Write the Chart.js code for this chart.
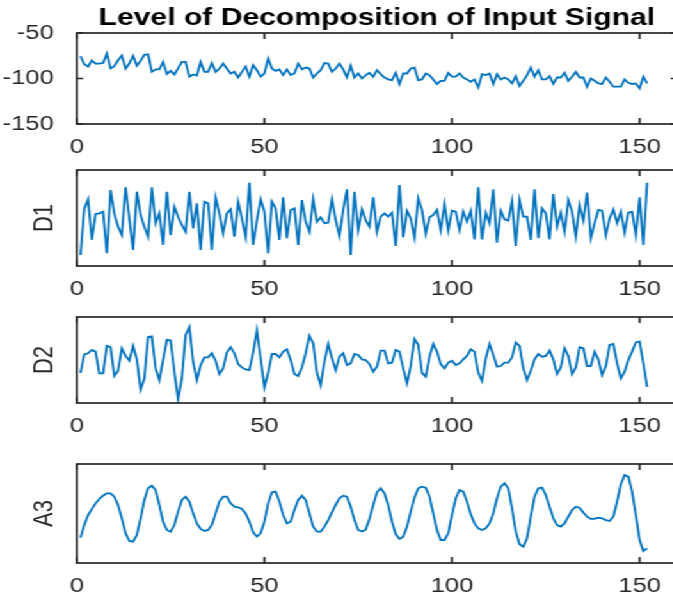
<!DOCTYPE html>
<html>
<head>
<meta charset="utf-8">
<script src="https://cdn.jsdelivr.net/npm/chart.js@4/dist/chart.umd.min.js"></script>
<style>
    html, body { margin: 0; padding: 0; background: #fff; overflow: hidden; }
    #wrap {
        position: relative;
        width: 531px;
        height: 597px;
        transform: scaleX(1.28);
        transform-origin: 0 0;
    }
    #wrap canvas { position: absolute; left: 0; }
</style>
</head>
<body>
<div id="wrap">
    <canvas id="sig" width="531" height="160" style="top:0px"></canvas>
    <canvas id="d1" width="531" height="142" style="top:160px"></canvas>
    <canvas id="d2" width="531" height="132" style="top:307px"></canvas>
    <canvas id="a3" width="531" height="143" style="top:454px"></canvas>
</div>
<script>
/* ============================
   Wavelet decomposition panels
   ============================ */

const titleText = 'Level of Decomposition of Input Signal';
const xTickValues = [0, 50, 100, 150];
const signalTicks = [-150, -100, -50];

// input signal, samples 1..152
const signal = [
    -75.6, -84.3, -87, -80, -83.6, -83.6, -83, -72.7, -89, -86.5,
    -80, -74.8, -89, -83.6, -75, -86, -80.7, -74, -73.4, -92.7,
    -90, -90, -81.8, -95, -91.6, -95.6, -89, -81.8, -81.8, -98,
    -95.6, -96.7, -81.8, -92.7, -92.7, -83, -92.7, -89, -83.6, -89,
    -94.5, -92.7, -98.9, -92.7, -87, -98, -85.4, -90.9, -98, -94.5,
    -78.1, -89, -91.6, -90, -96.3, -90, -96.3, -94.5, -83.6, -90,
    -88, -89, -98.9, -94.5, -90.9, -83, -83.6, -92.7, -89, -83.6,
    -90, -98.9, -86, -98.9, -94.5, -100, -96.3, -93.8, -98, -90.9,
    -95.2, -98.9, -101, -101.8, -93.8, -106, -94.5, -94.5, -89, -88,
    -101.8, -101, -94.5, -96.3, -101, -106, -102.5, -102.5, -93.8, -98,
    -98, -94.5, -98.9, -101, -103.6, -101, -109.8, -95.2, -96.3, -94.5,
    -106, -95.2, -101, -98.9, -101, -105.4, -97.4, -108.3, -102.5, -96.3,
    -88, -98, -90.9, -101, -101, -97.4, -106, -98.9, -98.9, -93.8,
    -102.5, -98, -92.7, -98.9, -98.9, -109, -100, -102.5, -105.4, -106,
    -98.9, -103.6, -109, -109, -109, -101, -104.7, -106, -105.4, -110.9,
    -98, -105.4
];

// level-1 detail
const detail1 = [
    -3.08, 0.8, 1.55, -1.83, 0.33, 0.39, 0.53, -2.94, 2.33, 0.39,
    -0.72, -1.42, 2.56, -0.03, -2.67, 2.19, 0.25, -0.72, -1.56, 2.56,
    -0.44, 0.39, -2.25, 2.19, -1.42, 0.94, 0.11, -0.58, -1.14, 2.19,
    -0.86, 1.22, -2.67, 1.36, 1.22, -2.67, 1.72, 0.39, -1.28, 0.39,
    0.72, -1.56, 1.36, -0.03, -1.56, 2.94, -2.25, -0.17, 1.55, 0.53,
    -2.94, 1.36, 0.8, -1.83, 1.72, -1.69, 0.67, 0.8, -2.25, 1.5,
    -0.31, -1.14, 1.55, -0.31, 0.06, -0.44, -0.39, 1.55, -0.17, -1.5,
    0.67, 2.39, -3.08, 2.19, -1.0, 0.72, -0.2, -0.72, 1.72, -1.14,
    0.11, 0.39, 0.11, 0.44, -2.33, 2.75, -1.61, 0.61, -0.03, -1.61,
    1.64, 0.67, -1.33, 0.06, 0.25, 0.67, -1.0, 1.17, -1.06, 0.61,
    0.53, -1.0, 0.53, -0.31, 0.61, -1.78, 2.56, -1.78, 0.44, -0.44,
    2.39, -2.06, 0.61, -0.11, -0.22, 1.44, -2.33, 1.5, 0.11, 0.11,
    -1.83, 2.39, -1.69, 0.8, 0.39, -1.78, 2.0, -0.72, 0.44, -1.14,
    1.5, 0.53, -1.56, 1.08, -0.22, 2.11, -1.69, -0.44, 0.67, 0.61,
    -1.42, -0.03, 0.72, -0.44, 0.53, -1.22, 0.44, 0.53, -1.42, 1.72,
    -2.25, 2.94
];

// level-2 detail
const detail2 = [
    -1.19, 0.53, 0.63, 0.94, 0.78, -1.25, -1.25, 1.31, 1.19, -1.5,
    -1.0, 1.09, 0.38, -0.06, 1.31, 0.06, -2.75, -1.72, 2.13, 2.19,
    -0.78, -1.88, 0, 1.88, 1.81, -1.09, -3.69, -1.72, 2.34, 3.06,
    -0.16, -1.88, -0.47, 0.25, 0.25, 0.63, -0.06, -1.31, -0.78, 0.69,
    1.19, 0.63, -0.38, -0.69, -0.88, -0.94, 0.69, 2.75, 0.16, -2.56,
    -1.19, 0.56, 0.56, 0.25, 0.78, 1.0, 0, -1.31, -1.5, -0.69,
    0.63, 2.25, 1.56, -1.19, -2.34, -0.16, 1.5, 0.16, -0.94, 0.31,
    0.63, -0.47, -0.31, 0.56, 0.47, 0.06, 0, -0.38, -1.09, -0.63,
    0.88, 0.88, -0.31, -0.25, 0.94, 0.78, -0.78, -2.19, -0.56, 1.94,
    1.41, -1.19, -1.56, 0.31, 1.5, 0.78, -0.38, -0.78, -0.25, -0.06,
    -0.47, -0.31, 0.06, 0.38, 1.0, 0.78, -1.19, -1.94, 0.16, 1.5,
    0.47, -0.63, -0.56, -0.25, -0.25, 0.25, 1.63, 1.31, -0.78, -1.88,
    -1.0, 0.06, 0.56, 0.31, 0.38, 0.88, 0.06, -1.31, -0.69, 1.09,
    0.38, -1.31, -0.69, 1.19, 1.09, -0.56, -0.56, 0.78, 0.06, -1.41,
    -0.56, 1.41, 1.5, -0.31, -1.72, -1.09, 0, 0.78, 1.63, 1.72,
    -0.31, -2.5
];

// level-3 approximation
const approx3 = [
    -1.95, -0.93, -0.12, 0.36, 0.82, 1.17, 1.44, 1.63, 1.63, 1.36,
    0.69, -0.39, -1.6, -2.22, -2.28, -1.74, -0.39, 1.09, 2.04, 2.25,
    1.9, 0.69, -0.66, -1.33, -1.47, -0.93, 0.15, 1.09, 1.36, 0.96,
    0.01, -0.8, -1.25, -1.42, -1.33, -0.93, 0.01, 0.96, 1.36, 1.36,
    0.82, 0.55, 0.5, 0.36, 0.01, -0.66, -1.52, -1.87, -1.6, -0.66,
    0.82, 1.71, 1.77, 0.96, -0.12, -0.8, -0.66, 0.28, 1.09, 1.44,
    1.09, 0.01, -1.06, -1.47, -1.47, -1.06, -0.53, 0.09, 0.69, 1.23,
    1.44, 1.36, 0.55, -0.53, -1.33, -1.45, -1.3, -0.45, 0.69, 1.71,
    2.04, 1.63, 0.69, -0.66, -1.68, -2.06, -1.87, -1.06, 0.15, 1.28,
    2.04, 2.17, 2.09, 1.36, 0.01, -1.33, -2.14, -2.14, -1.6, -0.12,
    1.23, 1.9, 1.77, 0.96, -0.07, -0.8, -1.2, -1.33, -1.2, -0.8,
    0.01, 1.23, 2.17, 2.44, 2.04, 0.42, -1.47, -2.49, -2.68, -2.01,
    -0.26, 1.36, 2.04, 2.09, 1.5, 0.55, -0.39, -0.93, -1.06, -0.8,
    -0.26, 0.28, 0.55, 0.47, 0.09, -0.26, -0.44, -0.44, -0.34, -0.39,
    -0.53, -0.61, -0.26, 0.96, 2.36, 3.11, 2.98, 1.77, -0.12, -2.14,
    -3.03, -2.82
];

const lineColor = '#0072BD';
const axisColor = '#262626';
const fontFamily = "'Liberation Sans', Arial, Helvetica, sans-serif";

Chart.defaults.font.family = fontFamily;
Chart.defaults.color = axisColor;

// box around the axes with inward-pointing ticks
const boxAxes = {
    id: 'boxAxes',
    afterDatasetsDraw(chart, args, opts) {
        const { ctx, chartArea: a, scales } = chart;
        ctx.save();
        ctx.strokeStyle = axisColor;
        ctx.lineWidth = 1.7;
        ctx.strokeRect(a.left, a.top, a.right - a.left, a.bottom - a.top);
        ctx.beginPath();
        scales.x.ticks.forEach(t => {
            const px = scales.x.getPixelForValue(t.value);
            ctx.moveTo(px, a.bottom);
            ctx.lineTo(px, a.bottom - 6);
            ctx.moveTo(px, a.top);
            ctx.lineTo(px, a.top + 6);
        });
        if (opts.yTicks) {
            scales.y.ticks.forEach(t => {
                const py = scales.y.getPixelForValue(t.value);
                ctx.moveTo(a.left, py);
                ctx.lineTo(a.left + 5, py);
                ctx.moveTo(a.right, py);
                ctx.lineTo(a.right - 5, py);
            });
        }
        ctx.stroke();
        ctx.restore();
    }
};

// bold heading centred over the plot area
const heading = {
    id: 'heading',
    afterDraw(chart, args, opts) {
        if (!opts.text) return;
        const { ctx, chartArea: a } = chart;
        ctx.save();
        ctx.fillStyle = '#000';
        ctx.font = 'bold 23.5px ' + fontFamily;
        ctx.textAlign = 'center';
        ctx.textBaseline = 'alphabetic';
        ctx.fillText(opts.text, (a.left + a.right) / 2, 25);
        ctx.restore();
    }
};

function makePanel(id, values, panel) {
    const canvas = document.getElementById(id);
    const h = canvas.height;
    const points = values.map((v, i) => ({ x: i + 1, y: v }));

    return new Chart(canvas, {
        type: 'line',
        data: {
            datasets: [{
                data: points,
                borderColor: lineColor,
                borderWidth: 1.8,
                pointRadius: 0,
                tension: 0,
                fill: false
            }]
        },
        options: {
            responsive: false,
            animation: false,
            events: [],
            layout: { padding: { top: panel.padTop, left: 0, right: 2, bottom: 0 } },
            plugins: {
                legend: { display: false },
                tooltip: { enabled: false },
                boxAxes: { yTicks: !!panel.yTicks },
                heading: { text: panel.heading || '' }
            },
            scales: {
                x: {
                    type: 'linear',
                    min: 0,
                    max: 160,
                    grid: { display: false },
                    border: { display: false },
                    ticks: { color: axisColor, font: { size: 20 }, padding: 3, maxRotation: 0 },
                    afterBuildTicks: s => { s.ticks = xTickValues.map(v => ({ value: v })); },
                    afterFit: s => { s.height = h - panel.padTop - panel.plotH; }
                },
                y: {
                    type: 'linear',
                    min: panel.min,
                    max: panel.max,
                    grid: { display: false },
                    border: { display: false },
                    ticks: { display: !!panel.yTicks, color: axisColor, font: { size: 20 }, padding: 10 },
                    afterBuildTicks: s => {
                        if (panel.yTicks) s.ticks = panel.yTicks.map(v => ({ value: v }));
                    },
                    title: {
                        display: !!panel.label,
                        text: panel.label || '',
                        color: axisColor,
                        font: { size: 22 },
                        padding: { top: 22, bottom: 0 }
                    },
                    afterFit: s => { s.width = 60; }
                }
            }
        },
        plugins: [boxAxes, heading]
    });
}

makePanel('sig', signal, { padTop: 33, plotH: 91, min: -150, max: -50, yTicks: signalTicks, heading: titleText });
makePanel('d1', detail1, { padTop: 10, plotH: 96, min: -4, max: 4, label: 'D1' });
makePanel('d2', detail2, { padTop: 10, plotH: 86, min: -4, max: 4, label: 'D2' });
makePanel('a3', approx3, { padTop: 10, plotH: 99, min: -4, max: 4, label: 'A3' });
</script>
</body>
</html>
